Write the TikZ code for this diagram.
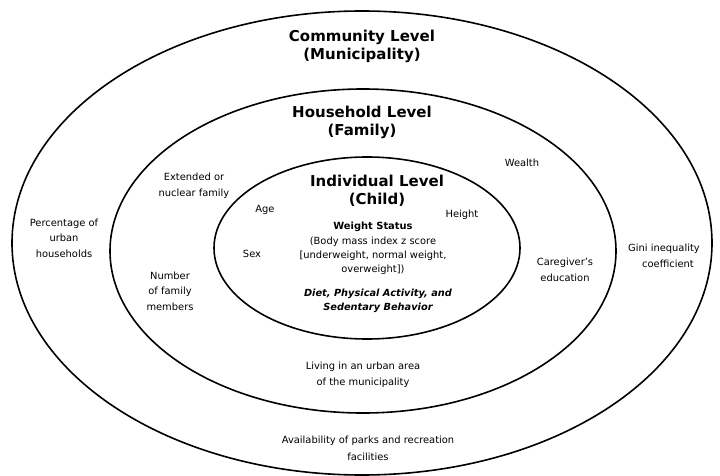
\documentclass[tikz,border=0pt]{standalone}
\usepackage{fontspec}
\setmainfont{DejaVu Sans}
\usepackage{tikz}

\begin{document}
\begin{tikzpicture}[x=1pt,y=-1pt,
  ring/.style={draw,line width=1.6pt},
  lvl/.style={align=center,inner sep=0pt,font=\fontsize{15}{18}\selectfont\bfseries},
  fac/.style={align=center,inner sep=0pt,font=\fontsize{9.9}{15.5}\selectfont}]
  \useasboundingbox (0,0) rectangle (720,476);
  % the three levels
  \draw[ring] (362,243) ellipse [x radius=350, y radius=232];
  \draw[ring] (363,251) ellipse [x radius=253, y radius=162];
  \draw[ring] (367,248) ellipse [x radius=153, y radius=91];
  \node[lvl](comm) at (362,46) {Community Level\\(Municipality)};
  \node[lvl](hh) at (362,122) {Household Level\\(Family)};
  \node[lvl](ind) at (377,191) {Individual Level\\(Child)};
  % child
  \node[fac](age) at (265,210) {Age};
  \node[fac](hgt) at (462,215) {Height};
  \node[fac](sex) at (252,254) {Sex};
  \node[fac,font=\fontsize{9.9}{14.3}\selectfont](ws) at (373,248.5)
    {\textbf{Weight Status}\\(Body mass index z score\\{[}underweight, normal weight,\\overweight{]})};
  \node[fac,font=\fontsize{9.8}{14}\selectfont\bfseries\itshape](diet) at (378,301)
    {Diet, Physical Activity, and\\Sedentary Behavior};
  % family
  \node[fac](ext) at (194,186) {Extended or\\nuclear family};
  \node[fac](wlth) at (522,163) {Wealth};
  \node[fac](num) at (170,291) {Number\\of family\\members};
  \node[fac](care) at (565,270) {Caregiver’s\\education};
  \node[fac](urb) at (363,375) {Living in an urban area\\of the municipality};
  % municipality
  \node[fac](pct) at (64,238) {Percentage of\\urban\\households};
  \node[fac](gini) at (664,256) {Gini inequality\\\hspace*{8pt}coefficient};
  \node[fac,font=\fontsize{9.9}{17}\selectfont](park) at (368,448) {Availability of parks and recreation\\facilities};
\end{tikzpicture}
\end{document}
